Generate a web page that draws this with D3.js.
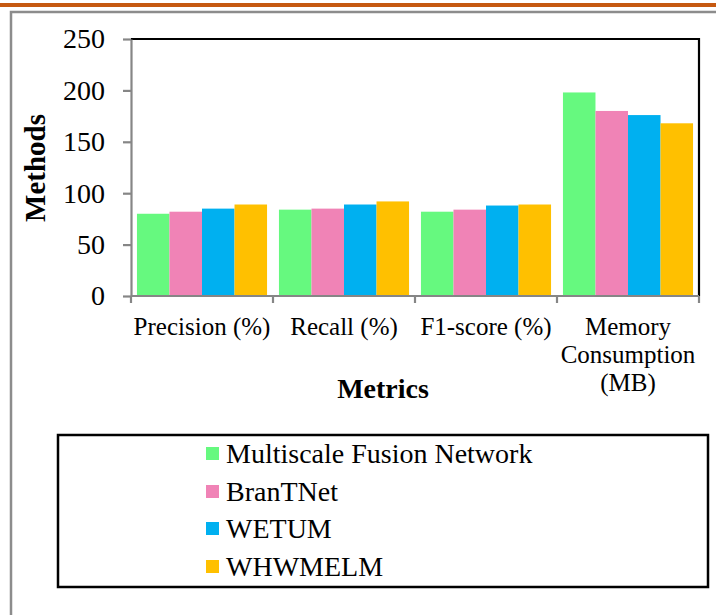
<!DOCTYPE html>
<html>
<head>
<meta charset="utf-8">
<script src="https://cdn.jsdelivr.net/npm/d3@7"></script>
<style>
  html, body { margin: 0; padding: 0; background: #fff; }
  svg { display: block; }
  text { font-family: "Liberation Serif", "Times New Roman", serif; fill: #000; }
</style>
</head>
<body>
<svg id="chart" width="716" height="615"></svg>
<script>
// Metrics on the x axis
const categories = ["Precision (%)", "Recall (%)", "F1-score (%)", "Memory Consumption (MB)"];
// Wrapped label lines for each metric
const categoryLines = [["Precision (%)"], ["Recall (%)"], ["F1-score (%)"], ["Memory", "Consumption", "(MB)"]];
// Compared methods
const methods = ["Multiscale Fusion Network", "BranTNet", "WETUM", "WHWMELM"];
const methodColors = ["#66F97F", "#F083B6", "#00B0F0", "#FFC000"];
// Values per method, in metric order
const multiscaleValues = [80, 84, 82, 198];
const brantnetValues = [82, 85, 84, 180];
const wetumValues = [85, 89, 88, 176];
const whwmelmValues = [89, 92, 89, 168];
const yTicks = [0, 50, 100, 150, 200, 250];

const series = [multiscaleValues, brantnetValues, wetumValues, whwmelmValues];

const svg = d3.select("#chart");

// Page decoration: orange rule and grey frame
svg.append("rect").attr("x", 0).attr("y", 3).attr("width", 716).attr("height", 4).attr("fill", "#C65911");
svg.append("path").attr("d", "M11,615 V12 H716")
  .attr("fill", "none").attr("stroke", "#8c8c8c").attr("stroke-width", 2.5);

const plot = { left: 131, right: 699, top: 39, bottom: 296 };

const x0 = d3.scaleBand().domain(categories).range([plot.left, plot.right]).paddingInner(0).paddingOuter(0);
const x1 = d3.scaleBand().domain(methods).range([0, x0.bandwidth()]).paddingInner(0).paddingOuter(0.183);
const y = d3.scaleLinear().domain([0, 250]).range([plot.bottom, plot.top]);

// Bars
const groups = svg.append("g").selectAll("g")
  .data(categories).join("g")
  .attr("transform", d => `translate(${x0(d)},0)`);

groups.selectAll("rect")
  .data((c, ci) => methods.map((m, mi) => ({ m, mi, v: series[mi][ci] })))
  .join("rect")
  .attr("x", d => x1(d.m))
  .attr("y", d => y(d.v))
  .attr("width", x1.bandwidth())
  .attr("height", d => y(0) - y(d.v))
  .attr("fill", d => methodColors[d.mi]);

// Plot area border (top and right)
svg.append("path")
  .attr("d", `M${plot.left},${plot.top} H${plot.right} V${plot.bottom}`)
  .attr("fill", "none").attr("stroke", "#000").attr("stroke-width", 2.2);

// Y axis
const yAxis = svg.append("g").attr("transform", `translate(${plot.left},0)`)
  .call(d3.axisLeft(y).tickValues(yTicks).tickSize(8).tickSizeOuter(0).tickPadding(18));
yAxis.select(".domain").attr("stroke", "#868686").attr("stroke-width", 2.2);
yAxis.selectAll(".tick line").attr("stroke", "#868686").attr("stroke-width", 2.2);
yAxis.selectAll(".tick text").style("font-size", "28px").style("font-family", "Liberation Serif").attr("fill", "#000");

// X axis with ticks at category boundaries
const xAxisG = svg.append("g").attr("transform", `translate(0,${plot.bottom})`);
xAxisG.append("line").attr("x1", plot.left).attr("x2", plot.right)
  .attr("stroke", "#868686").attr("stroke-width", 2.2);
const boundaries = categories.map(c => x0(c)).concat([plot.right]);
xAxisG.selectAll("line.tick").data(boundaries).join("line").attr("class", "tick")
  .attr("x1", d => d).attr("x2", d => d).attr("y1", 0).attr("y2", 7)
  .attr("stroke", "#868686").attr("stroke-width", 2.2);

// Category labels, one text per line so wrapped labels stack cleanly
const labelG = svg.append("g");
categories.forEach((c, i) => {
  categoryLines[i].forEach((line, li) => {
    labelG.append("text")
      .attr("x", x0(c) + x0.bandwidth() / 2)
      .attr("y", 335 + li * 27.8)
      .attr("text-anchor", "middle")
      .style("font-size", "25px")
      .text(line);
  });
});

// Axis titles
svg.append("text").attr("x", 383).attr("y", 398).attr("text-anchor", "middle")
  .style("font-size", "28px").style("font-weight", "bold").text("Metrics");
svg.append("text").attr("transform", "translate(45,168) rotate(-90)").attr("text-anchor", "middle")
  .style("font-size", "29px").style("font-weight", "bold").text("Methods");

// Legend
svg.append("rect").attr("x", 58).attr("y", 435).attr("width", 650).attr("height", 152)
  .attr("fill", "none").attr("stroke", "#000").attr("stroke-width", 2.5);
const legendRows = [454, 492, 529, 567];
const legend = svg.append("g").selectAll("g").data(methods).join("g")
  .attr("transform", (d, i) => `translate(206,${legendRows[i]})`);
legend.append("rect").attr("x", 0).attr("y", -7).attr("width", 13).attr("height", 13)
  .attr("fill", (d, i) => methodColors[i]);
legend.append("text").attr("x", 20).attr("y", 9).style("font-size", "28px").text(d => d);
</script>
</body>
</html>
